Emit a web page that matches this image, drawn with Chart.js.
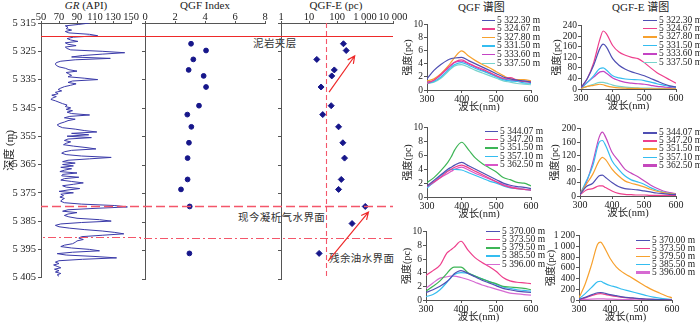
<!DOCTYPE html>
<html lang="zh">
<head>
<meta charset="UTF-8">
<title>QGF / QGF-E 剖面与谱图</title>
<script src="https://cdn.jsdelivr.net/npm/chart.js"></script>
<style>
    body {
        margin: 0;
        width: 700px;
        height: 323px;
        overflow: hidden;
        position: relative;
        background: #fff;
        font-family: 'Liberation Serif', 'Noto Sans CJK SC', serif;
        color: #222;
    }

    canvas {
        position: absolute;
    }

    .head {
        position: absolute;
        white-space: nowrap;
        font-size: 11px;
        line-height: 12px;
        text-align: center;
    }

    .note {
        position: absolute;
        white-space: nowrap;
        font-family: 'Noto Sans CJK SC', sans-serif;
        font-size: 10.5px;
        line-height: 12px;
        letter-spacing: 0.4px;
        color: #333;
    }

    .leg {
        position: absolute;
        white-space: nowrap;
        font-size: 9.5px;
        line-height: 9px;
    }

    .leg span {
        display: inline-block;
        vertical-align: middle;
        margin-right: 2px;
    }
</style>
</head>

<body>

<div class="head" style="left:41px; top:-1px; width:90px;"><i>GR</i> (API)</div>
<div class="head" style="left:145px; top:-1px; width:120px;">QGF Index</div>
<div class="head" style="left:279px; top:-1px; width:114px;">QGF-E (pc)</div>
<div class="head" style="left:458px; top:1px;">QGF 谱图</div>
<div class="head" style="left:612px; top:1px;">QGF-E 谱图</div>

<div class="note" style="left:253px; top:37px;">泥岩夹层</div>
<div class="note" style="left:238px; top:211px;">现今凝析气水界面</div>
<div class="note" style="left:329px; top:252px;">残余油水界面</div>

<script>
    // ---- well log data ----
    const depthTicks = [5315, 5325, 5335, 5345, 5355, 5365, 5375, 5385, 5395, 5405];
    const grTicks = [50, 70, 90, 110, 130, 150];
    const qgfTicks = [0, 2, 4, 6, 8];
    const qgfeTicks = [1, 10, 100, 1000, 10000];

    // GR curve sampled every 0.5 m from 5315 m
    const grTop = 5315, grStep = 0.5;
    const grValues = [
        104, 92, 77, 80, 78, 84, 77, 81, 104, 113,
        86, 79, 83, 91, 77, 80, 89, 77, 79, 83,
        118, 143, 118, 96, 84, 127, 88, 72, 67, 66,
        67, 70, 77, 81, 90, 78, 81, 84, 80, 98,
        113, 85, 80, 89, 83, 76, 72, 69, 73, 66,
        69, 62, 67, 63, 61, 66, 70, 74, 79, 77,
        83, 78, 85, 79, 84, 104, 82, 76, 88, 80,
        76, 71, 68, 70, 74, 88, 98, 112, 84, 103,
        79, 106, 80, 76, 83, 78, 75, 86, 100, 111,
        84, 76, 73, 78, 95, 128, 104, 80, 74, 88,
        74, 86, 72, 84, 76, 71, 90, 74, 73, 92,
        76, 72, 84, 97, 86, 74, 78, 93, 80, 70,
        86, 72, 75, 71, 76, 73, 72, 76, 95, 132,
        146, 110, 80, 74, 90, 80, 76, 81, 90, 115,
        128, 95, 72, 66, 70, 82, 98, 118, 132, 142,
        118, 95, 92, 97, 90, 88, 85, 76, 72, 84,
        104, 115, 85, 68, 78, 110, 134, 96, 70, 66,
        70, 64, 68, 72, 65, 70, 66, 72, 68, 70
    ];

    const sampleDepths = [5322.30, 5324.67, 5327.80, 5331.50, 5333.60, 5337.50, 5344.07, 5347.20,
        5351.50, 5357.10, 5362.50, 5370.00, 5373.50, 5379.50, 5385.50, 5396.00];
    const qgfIndex = [3.07, 4.07, 3.22, 2.91, 3.91, 4.07, 3.6, 2.82, 3.09, 2.93, 2.84, 2.84, 2.4, 2.98, null, 2.96];
    const qgfE = [170, 213, 19, 80, 65, 27, 62, 31, 114, 162, 186, 142, 114, 1020, 345, 23];

    // reference levels
    const mudstoneTop = 5319.5;
    const gasWaterContact = 5379.5;
    const oilWaterContact = 5390.5;
    const qgfeCutoff = 40;

    // ---- spectra data ----
    const wavelengths = [300, 320, 340, 360, 370, 380, 400, 420, 440, 460, 480, 500, 520, 540, 560, 580, 600];
    const wlTicks = [300, 400, 500, 600];

    const depthsTop = [5322.30, 5324.67, 5327.80, 5331.50, 5333.60, 5337.50];
    const depthsMid = [5344.07, 5347.20, 5351.50, 5357.10, 5362.50];
    const depthsLow = [5370.00, 5373.50, 5379.50, 5385.50, 5396.00];

    const qgfTop = [
        [1.7, 3.0, 3.9, 4.6, 4.8, 4.9, 5.0, 4.5, 4.0, 3.5, 3.0, 2.5, 2.0, 1.7, 1.5, 1.4, 1.2],
        [1.0, 1.5, 2.4, 3.4, 3.9, 4.3, 4.6, 4.1, 3.6, 3.2, 2.7, 2.2, 1.8, 1.9, 1.5, 1.3, 1.2],
        [1.4, 1.7, 2.5, 3.6, 4.3, 5.0, 6.0, 5.2, 4.5, 3.9, 3.4, 2.8, 2.2, 1.7, 1.6, 1.6, 1.4],
        [1.0, 1.3, 2.0, 3.0, 3.5, 3.9, 4.2, 3.8, 3.3, 2.9, 2.5, 2.0, 1.6, 1.4, 1.3, 1.1, 1.0],
        [1.2, 1.5, 2.3, 3.3, 3.8, 4.2, 4.4, 4.0, 3.5, 3.0, 2.6, 2.1, 1.7, 1.5, 1.4, 1.3, 1.2],
        [1.0, 1.2, 1.8, 2.8, 3.3, 3.7, 3.9, 3.5, 3.0, 2.6, 2.2, 1.8, 1.4, 1.2, 1.0, 0.9, 0.8]
    ];
    const qgfeTop = [
        [5, 40, 90, 155, 170, 160, 115, 90, 75, 65, 58, 50, 40, 30, 20, 12, 8],
        [5, 40, 100, 190, 220, 210, 165, 140, 128, 120, 115, 100, 80, 62, 48, 35, 22],
        [2, 10, 14, 18, 16, 12, 7, 4, 3, 2, 2, 1, 1, 1, 1, 1, 1],
        [3, 25, 50, 78, 80, 72, 50, 42, 38, 36, 35, 32, 26, 20, 15, 10, 7],
        [3, 25, 45, 65, 67, 60, 42, 32, 25, 22, 20, 18, 14, 10, 8, 5, 4],
        [2, 10, 18, 25, 25, 22, 15, 10, 7, 5, 4, 3, 3, 2, 2, 2, 1]
    ];
    const qgfMid = [
        [1.6, 2.4, 3.2, 4.0, 4.3, 4.6, 5.0, 4.5, 4.0, 3.5, 3.0, 2.5, 2.0, 1.7, 1.5, 1.4, 1.2],
        [1.5, 2.2, 2.9, 3.7, 4.0, 4.3, 4.6, 4.2, 3.7, 3.2, 2.7, 2.2, 1.7, 1.4, 1.2, 1.1, 1.0],
        [2.1, 2.8, 3.8, 5.0, 5.8, 6.8, 7.9, 6.8, 5.6, 4.8, 4.2, 3.6, 2.8, 2.5, 2.1, 2.0, 1.6],
        [1.3, 2.2, 3.1, 3.8, 4.0, 4.0, 3.9, 3.5, 3.1, 2.7, 2.3, 2.0, 1.6, 1.3, 1.2, 1.1, 1.0],
        [1.4, 2.1, 2.8, 3.4, 3.7, 4.0, 4.3, 3.9, 3.4, 3.0, 2.6, 2.2, 1.8, 1.5, 1.3, 1.1, 1.0]
    ];
    const qgfeMid = [
        [5, 28, 38, 60, 62, 55, 40, 28, 22, 20, 18, 15, 12, 9, 7, 5, 4],
        [3, 18, 22, 30, 30, 25, 15, 8, 5, 4, 3, 3, 2, 2, 2, 2, 2],
        [5, 35, 65, 105, 115, 108, 80, 60, 45, 38, 33, 27, 20, 14, 10, 7, 5],
        [5, 45, 90, 160, 165, 150, 105, 80, 60, 48, 42, 35, 25, 17, 12, 8, 5],
        [8, 40, 100, 175, 190, 175, 130, 105, 80, 68, 58, 45, 33, 23, 15, 10, 7]
    ];
    const qgfLow = [
        [1.1, 1.5, 2.0, 2.7, 3.2, 3.8, 4.3, 3.9, 3.4, 2.9, 2.5, 2.1, 1.7, 1.5, 1.3, 1.2, 1.1],
        [3.6, 4.3, 5.1, 6.9, 7.3, 7.7, 8.6, 7.3, 6.2, 5.5, 4.9, 4.2, 3.3, 2.8, 2.6, 2.5, 2.4],
        [1.3, 2.0, 2.8, 3.9, 4.5, 4.8, 4.8, 4.0, 3.5, 3.1, 2.7, 2.4, 2.0, 1.9, 1.8, 1.7, 1.5],
        [0.5, 0.8, 1.5, 2.6, 3.2, 3.7, 4.0, 3.9, 3.5, 3.1, 2.7, 2.3, 1.9, 1.7, 1.5, 1.4, 1.3],
        [1.7, 2.5, 3.2, 3.4, 3.5, 3.5, 3.3, 3.0, 2.6, 2.2, 1.9, 1.6, 1.3, 1.0, 0.9, 0.8, 0.7]
    ];
    const qgfeLow = [
        [10, 50, 95, 135, 140, 130, 100, 80, 60, 45, 35, 25, 18, 12, 8, 5, 3],
        [8, 40, 80, 115, 118, 108, 85, 65, 50, 38, 28, 20, 14, 10, 7, 4, 3],
        [40, 300, 650, 1040, 1080, 1000, 780, 620, 520, 450, 380, 310, 240, 180, 130, 80, 40],
        [20, 120, 230, 340, 350, 320, 270, 240, 200, 170, 140, 110, 80, 55, 35, 20, 10],
        [3, 10, 18, 22, 22, 20, 16, 12, 9, 7, 5, 4, 3, 2, 2, 2, 1]
    ];

    // ---- styles ----
    const axisColor = '#555';
    const indigo = '#4f4fb3', pink = '#ee3f8c', orange = '#f7a12e', sky = '#34bdf0',
        magenta = '#c444c4', teal = '#78d3cc', green = '#3db556', orchid = '#d66ad2';
    const colorsTop = [indigo, pink, orange, sky, magenta, teal];
    const colorsMidL = [indigo, pink, green, sky, '#d955c8'];
    const colorsMidR = [indigo, pink, orange, sky, '#c548bd'];
    const colorsLowL = [indigo, pink, green, sky, orchid];
    const colorsLowR = [indigo, pink, orange, sky, orchid];

    Chart.defaults.font.family = "'Liberation Serif', 'Noto Sans CJK SC', serif";
    Chart.defaults.font.size = 10.5;
    Chart.defaults.color = '#222';
    Chart.defaults.animation = false;
    Chart.defaults.responsive = false;
    Chart.defaults.devicePixelRatio = 1;
    Chart.defaults.plugins.legend.display = false;
    Chart.defaults.plugins.tooltip.enabled = false;

    const spaced = v => String(v).replace(/\B(?=(\d{3})+(?!\d))/g, ' ');
    const fmtDepth = d => {
        const parts = d.toFixed(2).split('.');
        return spaced(parts[0]) + '.' + parts[1] + ' m';
    };
    const fixW = w => s => { s.width = w; };
    const fixH = h => s => { s.height = h; };
    const setTicks = list => s => { s.ticks = list.map(v => ({ value: v })); };

    function place(left, top, w, h) {
        const c = document.createElement('canvas');
        c.width = w;
        c.height = h;
        c.style.left = left + 'px';
        c.style.top = top + 'px';
        document.body.appendChild(c);
        return c;
    }

    // red reference lines across the three log tracks
    const refLines = {
        id: 'refLines',
        afterDatasetsDraw(chart, args, opts) {
            const ctx = chart.ctx, y = chart.scales.y, area = chart.chartArea;
            const x0 = opts.fromArea ? area.left : 0;
            const x1 = opts.toArea ? area.right : chart.width;
            const lines = [
                { d: mudstoneTop, dash: [], color: '#ee2a2a', w: 1 },
                { d: gasWaterContact, dash: [9, 4], color: '#f4566a', w: 1.3 },
                { d: oilWaterContact, dash: [8, 3, 2, 3], color: '#f4566a', w: 1.1 }
            ];
            ctx.save();
            lines.forEach(l => {
                const py = Math.round(y.getPixelForValue(l.d)) + 0.5;
                ctx.beginPath();
                ctx.setLineDash(l.dash);
                ctx.lineDashOffset = opts.left + x0;
                ctx.strokeStyle = l.color;
                ctx.lineWidth = l.w;
                ctx.moveTo(x0, py);
                ctx.lineTo(x1, py);
                ctx.stroke();
            });
            if (opts.cutoff) {
                const px = Math.round(chart.scales.x.getPixelForValue(qgfeCutoff)) + 0.5;
                ctx.beginPath();
                ctx.setLineDash([5, 3]);
                ctx.lineDashOffset = 0;
                ctx.strokeStyle = '#f4566a';
                ctx.lineWidth = 1.1;
                ctx.moveTo(px, area.top);
                ctx.lineTo(px, area.bottom);
                ctx.stroke();

                // trend arrows
                const arrows = [[52, 5339.3, 428, 5326.6], [48, 5398.7, 1330, 5381.5]];
                ctx.setLineDash([]);
                ctx.strokeStyle = '#ee2a2a';
                ctx.lineWidth = 1.2;
                arrows.forEach(a => {
                    const ax = chart.scales.x.getPixelForValue(a[0]), ay = y.getPixelForValue(a[1]);
                    const bx = chart.scales.x.getPixelForValue(a[2]), by = y.getPixelForValue(a[3]);
                    const ang = Math.atan2(by - ay, bx - ax);
                    ctx.beginPath();
                    ctx.moveTo(ax, ay);
                    ctx.lineTo(bx, by);
                    ctx.moveTo(bx - 8 * Math.cos(ang - 0.45), by - 8 * Math.sin(ang - 0.45));
                    ctx.lineTo(bx, by);
                    ctx.lineTo(bx - 8 * Math.cos(ang + 0.45), by - 8 * Math.sin(ang + 0.45));
                    ctx.stroke();
                });
            }
            ctx.restore();
        }
    };

    function depthAxis(width, showLabels) {
        return {
            type: 'linear', min: 5315, max: 5405, reverse: true,
            afterBuildTicks: setTicks(depthTicks),
            afterFit: fixW(width),
            border: { color: axisColor },
            grid: { drawOnChartArea: false, tickLength: 3, color: axisColor },
            ticks: { display: showLabels, autoSkip: false, padding: 2, callback: v => spaced(v) },
            title: { display: showLabels, text: '深度 (m)', font: { size: 11 }, padding: { top: 4, bottom: 0 } }
        };
    }

    function topAxis(extra, ticks) {
        return Object.assign({
            position: 'top',
            afterBuildTicks: setTicks(ticks),
            afterFit: fixH(23),
            border: { color: axisColor },
            grid: { drawOnChartArea: false, tickLength: 2, color: axisColor },
            ticks: { padding: -3, autoSkip: false, maxRotation: 0, callback: v => spaced(v) }
        }, extra);
    }

    const trackH = 286;

    // GR track
    new Chart(place(0, 0, 143, trackH), {
        type: 'line',
        data: {
            datasets: [{
                data: grValues.map((v, i) => ({ x: v, y: grTop + i * grStep })),
                borderColor: '#3a3aa8', borderWidth: 1, pointRadius: 0, tension: 0
            }]
        },
        options: {
            layout: { padding: { left: 0, right: 12, top: 0, bottom: 7 } },
            scales: {
                x: topAxis({ type: 'linear', min: 50, max: 150 }, grTicks),
                y: depthAxis(41, true)
            },
            plugins: { refLines: { left: 0, fromArea: true } }
        },
        plugins: [refLines]
    });

    // QGF index track
    new Chart(place(140, 0, 136, trackH), {
        type: 'scatter',
        data: {
            datasets: [{
                data: sampleDepths.map((d, i) => ({ x: qgfIndex[i], y: d })).filter(p => p.x !== null),
                backgroundColor: '#16168a', borderColor: '#16168a', pointRadius: 2.4
            }]
        },
        options: {
            layout: { padding: { left: 0, right: 11, top: 0, bottom: 7 } },
            scales: {
                x: topAxis({ type: 'linear', min: 0, max: 8 }, qgfTicks),
                y: depthAxis(5, false)
            },
            plugins: { refLines: { left: 140 } }
        },
        plugins: [refLines]
    });

    // QGF-E track
    new Chart(place(276, 0, 131, trackH), {
        type: 'scatter',
        data: {
            datasets: [{
                data: sampleDepths.map((d, i) => ({ x: qgfE[i], y: d })),
                backgroundColor: '#16168a', borderColor: '#16168a', pointRadius: 3, pointStyle: 'rectRot'
            }]
        },
        options: {
            layout: { padding: { left: 0, right: 14, top: 0, bottom: 7 } },
            scales: {
                x: topAxis({ type: 'logarithmic', min: 1, max: 10000 }, qgfeTicks),
                y: depthAxis(3, false)
            },
            plugins: { refLines: { left: 276, toArea: true, cutoff: true } }
        },
        plugins: [refLines]
    });

    // spectra panels
    function spectrum(left, top, w, h, wy, yMax, yStep, series, colors) {
        new Chart(place(left, top, w, h), {
            type: 'line',
            data: {
                datasets: series.map((s, i) => ({
                    data: s.map((v, j) => ({ x: wavelengths[j], y: v })),
                    borderColor: colors[i], borderWidth: 1.2, pointRadius: 0,
                    cubicInterpolationMode: 'monotone'
                }))
            },
            options: {
                layout: { padding: { left: 0, right: 10, top: 6, bottom: 0 } },
                scales: {
                    x: {
                        type: 'linear', min: 300, max: 600,
                        afterBuildTicks: setTicks(wlTicks),
                        afterFit: fixH(24),
                        border: { color: axisColor },
                        grid: { drawOnChartArea: false, tickLength: 3, color: axisColor },
                        ticks: { padding: 0, autoSkip: false, maxRotation: 0, font: { size: 10 } },
                        title: { display: true, text: '波长(nm)', font: { size: 10.5 }, padding: { top: 0, bottom: 0 } }
                    },
                    y: {
                        min: 0, max: yMax,
                        afterFit: fixW(wy),
                        border: { color: axisColor },
                        grid: { drawOnChartArea: false, tickLength: 3, color: axisColor },
                        ticks: { stepSize: yStep, autoSkip: false, padding: 1, font: { size: 9.5 }, callback: v => spaced(v) },
                        title: { display: true, text: '强度(pc)', font: { size: 10 }, padding: { top: 0, bottom: 0 } }
                    }
                }
            }
        });
    }

    function legend(left, firstY, rowH, lineW, depths, colors, widths) {
        depths.forEach((d, i) => {
            const row = document.createElement('div');
            row.className = 'leg';
            row.style.left = left + 'px';
            row.style.top = (firstY + i * rowH - 4.5) + 'px';
            const sw = document.createElement('span');
            sw.style.width = lineW + 'px';
            sw.style.height = (widths ? widths[i] : 1.5) + 'px';
            sw.style.background = colors[i];
            row.appendChild(sw);
            row.appendChild(document.createTextNode(fmtDepth(d)));
            document.body.appendChild(row);
        });
    }

    spectrum(402, 18, 139, 96, 25, 10, 2, qgfTop, colorsTop);
    spectrum(551, 19, 135, 94, 30, 240, 40, qgfeTop, colorsTop);
    spectrum(402, 121, 139, 100, 25, 10, 2, qgfMid, colorsMidL);
    spectrum(549, 122, 137, 98, 31, 200, 40, qgfeMid, colorsMidR);
    spectrum(401, 225, 140, 99, 25, 10, 2, qgfLow, colorsLowL);
    spectrum(545, 229, 137, 95, 34, 1200, 200, qgfeLow, colorsLowR);

    legend(482, 20, 8.6, 13, depthsTop, colorsTop);
    legend(643, 20, 8.4, 14, depthsTop, colorsTop);
    legend(485, 131, 8.4, 13, depthsMid, colorsMidL);
    legend(643, 132.7, 8.1, 14, depthsMid, colorsMidR, [1.5, 1.5, 1.5, 1.5, 3]);
    legend(486, 231, 8.3, 14, depthsLow, colorsLowL);
    legend(636, 240, 8.1, 14, depthsLow, colorsLowR, [1.5, 1.5, 1.5, 1.5, 3]);
</script>
</body>

</html>
